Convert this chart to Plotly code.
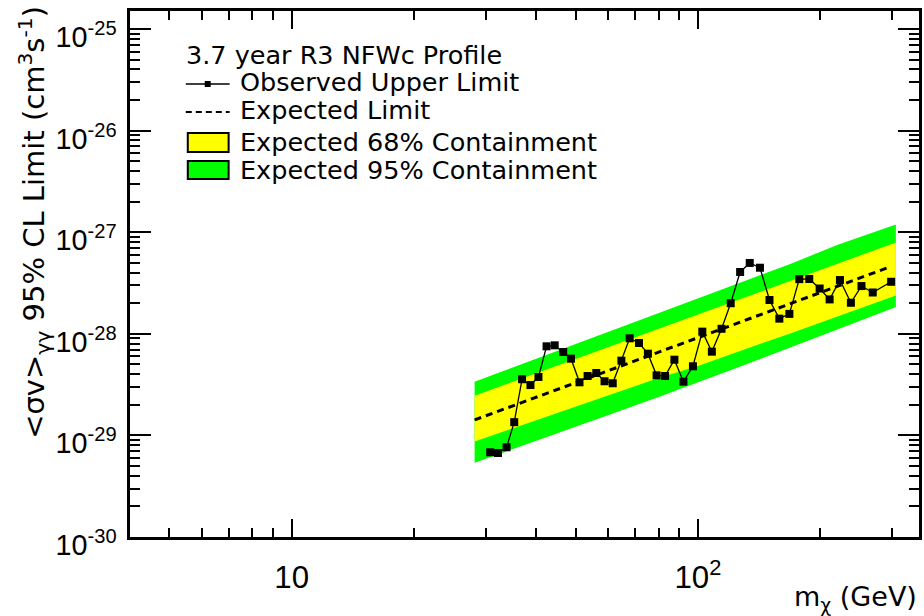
import math
import plotly.graph_objects as go

# Observed 95% CL upper limit on <sigma v>_gamma-gamma (cm^3 s^-1) vs. WIMP mass (GeV)
mass_obs = [30.8, 32.2, 33.8, 35.3, 36.9, 38.7, 40.5, 42.4, 44.4, 46.6,
            48.7, 51.1, 53.5, 56.2, 58.9, 61.7, 64.8, 67.9, 71.6, 75.3,
            79.1, 83.0, 87.5, 92.1, 97.2, 102.5, 108.2, 114.3, 120.4, 127.0,
            134.1, 142.1, 150.0, 158.6, 167.9, 177.6, 187.9, 199.3, 210.9, 223.6,
            237.9, 252.6, 269.3, 298.9]
limit_obs = [6.82e-30, 6.71e-30, 7.64e-30, 1.35e-29, 3.57e-29, 3.13e-29, 3.76e-29, 7.53e-29, 7.70e-29, 6.62e-29,
             5.69e-29, 3.33e-29, 3.84e-29, 4.11e-29, 3.41e-29, 3.26e-29, 5.44e-29, 9.03e-29, 8.12e-29, 6.37e-29,
             3.90e-29, 3.84e-29, 5.56e-29, 3.38e-29, 4.79e-29, 1.05e-28, 6.67e-29, 1.12e-28, 2.00e-28, 4.06e-28,
             4.98e-28, 4.47e-28, 2.15e-28, 1.41e-28, 1.57e-28, 3.45e-28, 3.46e-28, 2.79e-28, 2.18e-28, 3.38e-28,
             2.02e-28, 2.95e-28, 2.55e-28, 3.25e-28]

# Expected (median) limit
mass_exp = [28.2, 40, 60, 100, 170, 293]
limit_exp = [1.42e-29, 2.37e-29, 4.31e-29, 9.18e-29, 2.00e-28, 4.47e-28]

# Expected containment bands
mass_band = [28.2, 40, 50, 60, 80, 100, 130, 170, 220, 260, 307]
upper95 = [3.38e-29, 5.69e-29, 7.94e-29, 1.04e-28, 1.60e-28, 2.23e-28, 3.30e-28, 4.92e-28, 7.48e-28, 9.38e-28, 1.19e-27]
upper68 = [2.46e-29, 4.08e-29, 5.65e-29, 7.36e-29, 1.12e-28, 1.55e-28, 2.26e-28, 3.35e-28, 4.86e-28, 6.20e-28, 7.92e-28]
lower68 = [8.71e-30, 1.41e-29, 1.92e-29, 2.47e-29, 3.67e-29, 4.82e-29, 7.00e-29, 1.02e-28, 1.48e-28, 1.87e-28, 2.38e-28]
lower95 = [5.38e-30, 8.85e-30, 1.21e-29, 1.58e-29, 2.39e-29, 3.30e-29, 4.92e-29, 7.41e-29, 1.10e-28, 1.42e-28, 1.84e-28]

legend_title = "3.7 year R3 NFWc Profile"
legend_labels = ["Observed Upper Limit", "Expected Limit",
                 "Expected 68% Containment", "Expected 95% Containment"]

FONT = "DejaVu Sans"
TICK_FONT = "Liberation Sans"
GREEN = "#00ff00"
YELLOW = "#ffff00"

W, H = 924, 616
L, R, T, B = 130, 2, 11, 79
PW, PH = W - L - R, H - T - B


def px(x):
    """pixel column -> paper x"""
    return (x - L) / PW


def py(y):
    """pixel row -> paper y"""
    return (H - B - y) / PH


fig = go.Figure()

fig.add_trace(go.Scatter(
    x=mass_band + mass_band[::-1], y=upper95 + lower95[::-1],
    mode="lines", fill="toself", fillcolor=GREEN, line=dict(width=0),
    hoverinfo="skip", showlegend=False))
fig.add_trace(go.Scatter(
    x=mass_band + mass_band[::-1], y=upper68 + lower68[::-1],
    mode="lines", fill="toself", fillcolor=YELLOW, line=dict(width=0),
    hoverinfo="skip", showlegend=False))
fig.add_trace(go.Scatter(
    x=mass_exp, y=limit_exp, mode="lines",
    line=dict(color="black", width=3, dash="7px,5px"), showlegend=False))
fig.add_trace(go.Scatter(
    x=mass_obs, y=limit_obs, mode="lines+markers",
    line=dict(color="black", width=1.3),
    marker=dict(symbol="square", size=8, color="black"), showlegend=False))

axis_common = dict(
    type="log", showgrid=False, zeroline=False,
    showline=True, linecolor="black", linewidth=2.5, mirror="ticks",
    ticks="inside", tickcolor="black", tickwidth=2,
    tickmode="linear", tick0=0, dtick=1, exponentformat="power",
)

fig.update_xaxes(**axis_common, range=[math.log10(4), math.log10(350)],
                 ticklen=18, ticklabelstandoff=12,
                 tickfont=dict(family=TICK_FONT, size=25, color="black"),
                 minor=dict(ticks="inside", ticklen=9, tickwidth=2, tickcolor="black", showgrid=False))
fig.update_yaxes(**axis_common, range=[-30, -24.823],
                 ticklen=21, ticklabelstandoff=6, ticklabelshift=8,
                 tickfont=dict(family=TICK_FONT, size=23, color="black"),
                 labelalias={f"10<sup>\u2212{p}</sup>": f"10<sup>-{p}</sup>" for p in range(24, 31)},
                 minor=dict(ticks="inside", ticklen=10, tickwidth=2, tickcolor="black", showgrid=False))

annotations = [
    dict(text="&lt;σv&gt;<sub>γγ</sub> 95% CL Limit (cm<sup>3</sup>s<sup>-1</sup>)",
         textangle=-90, x=px(34), y=py(4), xanchor="center", yanchor="top",
         font=dict(family=FONT, size=29, color="black")),
    dict(text="m<sub>χ</sub> (GeV)", x=px(922), y=py(598), xanchor="right", yanchor="middle",
         font=dict(family=FONT, size=27, color="black")),
    dict(text=legend_title, x=px(184), y=py(55), xanchor="left", yanchor="middle",
         font=dict(family=FONT, size=25.5, color="black")),
]
for label, yc in zip(legend_labels, [82, 110, 142, 170]):
    annotations.append(dict(text=label, x=px(238), y=py(yc), xanchor="left", yanchor="middle",
                            font=dict(family=FONT, size=25.5, color="black")))
for a in annotations:
    a.update(xref="paper", yref="paper", showarrow=False)

shapes = [
    dict(type="line", x0=px(186), x1=px(230), y0=py(84), y1=py(84),
         line=dict(color="black", width=1.5)),
    dict(type="rect", x0=px(205), x1=px(211), y0=py(81), y1=py(87),
         fillcolor="black", line=dict(width=0)),
    dict(type="line", x0=px(186), x1=px(230), y0=py(112), y1=py(112),
         line=dict(color="black", width=2, dash="6px,4px")),
    dict(type="rect", x0=px(188), x1=px(229), y0=py(133), y1=py(152),
         fillcolor=YELLOW, line=dict(color="black", width=2)),
    dict(type="rect", x0=px(188), x1=px(229), y0=py(161), y1=py(179),
         fillcolor=GREEN, line=dict(color="black", width=2)),
]
for s in shapes:
    s.update(xref="paper", yref="paper", layer="above")

fig.update_layout(
    width=W, height=H, margin=dict(l=L, r=R, t=T, b=B, pad=0),
    paper_bgcolor="white", plot_bgcolor="white",
    annotations=annotations, shapes=shapes, showlegend=False,
)

fig.write_html("out.html")
